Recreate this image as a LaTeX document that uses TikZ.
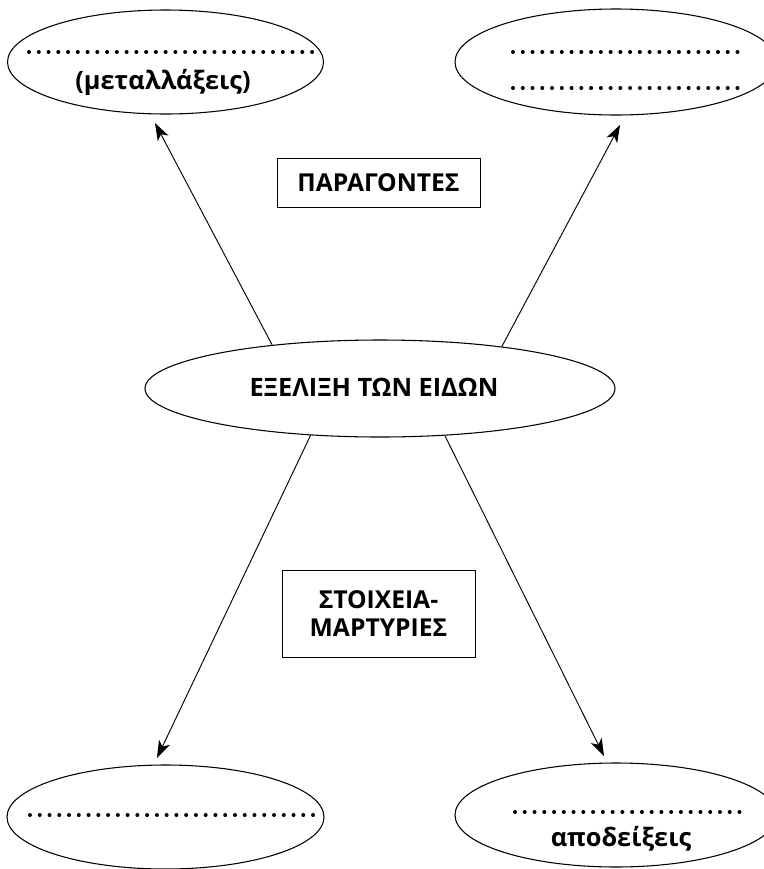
\documentclass[tikz,border=0pt]{standalone}
\usepackage{fontspec}
\setmainfont{Open Sans}
\usetikzlibrary{shapes.geometric,arrows.meta}
\begin{document}
\begin{tikzpicture}[x=0.75pt,y=-0.75pt,
  oval/.style={draw, ellipse, line width=0.8pt, inner sep=0pt},
  lbl/.style={font=\fontsize{19}{21}\selectfont\bfseries, inner sep=0pt, anchor=base},
  boxed/.style={draw, line width=0.7pt, inner sep=0pt, align=center, font=\fontsize{18.5}{21}\selectfont\bfseries},
  arr/.style={-{Stealth[length=13pt,width=9pt,inset=3.5pt]}, line width=0.7pt},
  dots/.style={line width=3pt, line cap=round, dash pattern=on 0pt off 7.32pt}]
\useasboundingbox (0,0) rectangle (764,869);

% ellipses
\node[oval, minimum width=237pt, minimum height=78pt] (tl) at (165.5,62) {};
\node[oval, minimum width=241.5pt, minimum height=79.5pt] (tr) at (616,62) {};
\node[oval, minimum width=352.5pt, minimum height=72.75pt] (c) at (380,388.5) {};
\node[oval, minimum width=237.75pt, minimum height=78pt] (bl) at (165.5,817) {};
\node[oval, minimum width=241.5pt, minimum height=78pt] (br) at (616,815) {};

% labels
\node[lbl] (tlt) at (163,89) {(μεταλλάξεις)};
\node[lbl] (brt) at (621,846) {αποδείξεις};
\node[lbl] (ct) at (374,396) {ΕΞΕΛΙΞΗ ΤΩΝ ΕΙΔΩΝ};

% boxes
\node[boxed, minimum width=152.25pt, minimum height=36.75pt] (b1) at (378.5,182.5) {ΠΑΡΑΓΟΝΤΕΣ};
\node[boxed, minimum width=144.75pt, minimum height=65.25pt] (b2) at (378.5,613.5) {ΣΤΟΙΧΕΙΑ-\\ΜΑΡΤΥΡΙΕΣ};

% dotted blanks
\draw[dots] (29,52) -- (312.5,52);
\draw[dots] (513,52) -- (740,52);
\draw[dots] (513,88) -- (740,88);
\draw[dots] (30,815) -- (313.5,815);
\draw[dots] (515,812) -- (742,812);

% arrow tips
\coordinate (e1) at (155,123);
\coordinate (e2) at (620,125);
\coordinate (e3) at (157,758);
\coordinate (e4) at (604,756);

\draw[arr] (c.158.9) -- (e1);
\draw[arr] (c.19.5) -- (e2);
\draw[arr] (c.214.5) -- (e3);
\draw[arr] (c.324.4) -- (e4);
\end{tikzpicture}
\end{document}
